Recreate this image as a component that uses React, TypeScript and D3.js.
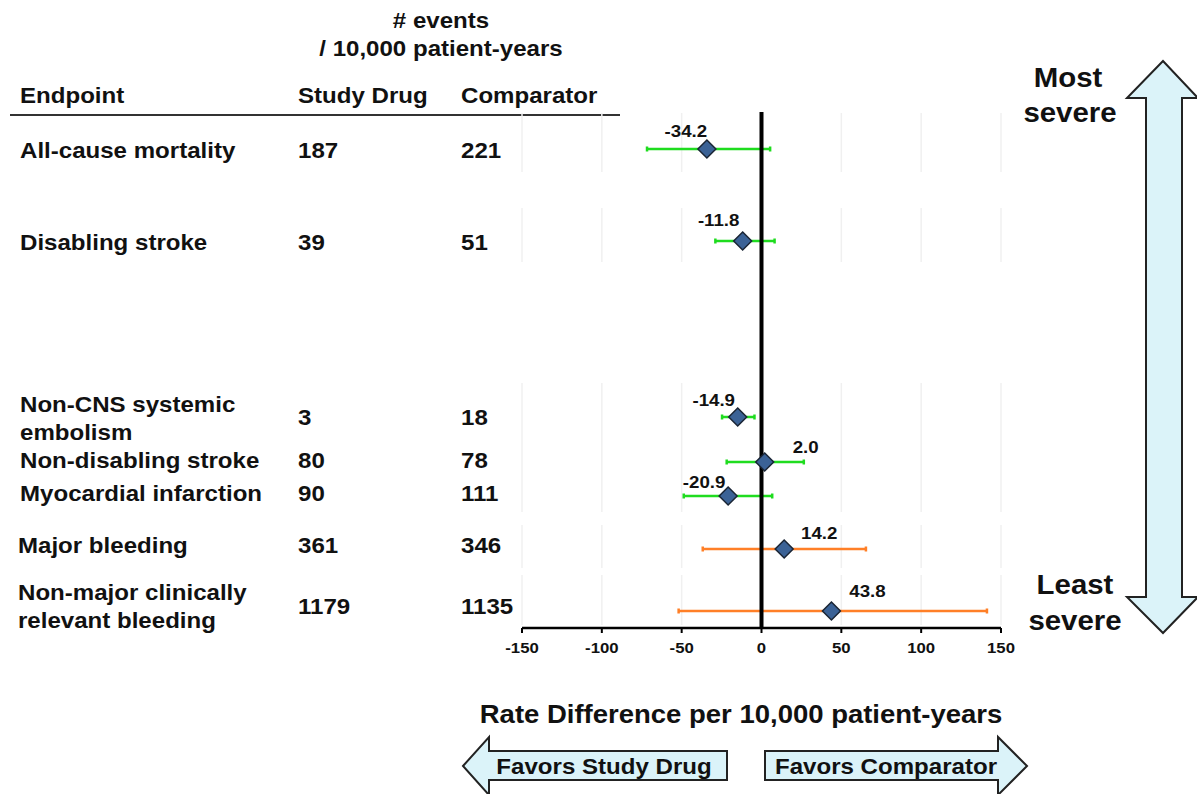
import React from "react";
import * as d3 from "d3";

const endpoints = [
  ["All-cause mortality"],
  ["Disabling stroke"],
  ["Non-CNS systemic", "embolism"],
  ["Non-disabling stroke"],
  ["Myocardial infarction"],
  ["Major bleeding"],
  ["Non-major clinically", "relevant bleeding"],
];
const studyDrug = [187, 39, 3, 80, 90, 361, 1179];
const comparator = [221, 51, 18, 78, 111, 346, 1135];
const estimate = [-34.2, -11.8, -14.9, 2.0, -20.9, 14.2, 43.8];
const ciLow = [-71.7, -28.9, -24.7, -21.8, -48.7, -36.8, -51.9];
const ciHigh = [5.4, 8.2, -4.4, 26.5, 6.7, 65.4, 141.2];
const group = ["efficacy", "efficacy", "efficacy", "efficacy", "efficacy", "bleeding", "bleeding"];
const xTicks = [-150, -100, -50, 0, 50, 100, 150];

// layout (not data)
const rowY = [149, 241, 417, 462, 496, 549, 611];
const textY = [158, 250, 412, 468, 501, 553, 600];
const numY = [158, 250, 425, 468, 501, 553, 614];
const textX = [20, 20, 20, 20, 20, 18, 18];
const labelDx = [-21, -24, -24, 41, -24, 35, 36];
const labelDy = [-12, -15, -11, -9, -8, -10, -14];
const gridBands = [[113, 172], [208, 262], [383, 512], [525, 568], [575, 625]];

const FONT = "'Liberation Sans', Arial, Helvetica, sans-serif";
const colors: Record<string, string> = { efficacy: "#1fdc1f", bleeding: "#ff7f27" };

function T({ x, y, children, size = 20, anchor = "start", sx = 1.12 }: any) {
  return (
    <text
      transform={`translate(${x},${y}) scale(${sx},1)`}
      fontFamily={FONT}
      fontWeight="bold"
      fontSize={size}
      textAnchor={anchor}
      fill="#111"
    >
      {children}
    </text>
  );
}

export default function App() {
  const x = d3.scaleLinear().domain([-150, 150]).range([522, 1001]);
  const axisY = 628;
  const arrowFill = "#dbf3f9";
  const TS = 21.5;

  const colStudy = 298;
  const colComp = 461;

  return (
    <svg
      width={1197}
      height={794}
      style={{ position: "absolute", left: 0, top: 0, background: "#fff" }}
    >
      {/* header */}
      <T x={441} y={28} anchor="middle" size={TS}># events</T>
      <T x={441} y={56} anchor="middle" size={TS}>/ 10,000 patient-years</T>
      <T x={20} y={103} size={TS}>Endpoint</T>
      <T x={colStudy} y={103} size={TS}>Study Drug</T>
      <T x={colComp} y={103} size={TS}>Comparator</T>
      <line x1={10} x2={620} y1={115} y2={115} stroke="#333" strokeWidth={2} />

      {/* gridlines */}
      {gridBands.map(([y0, y1], bi) =>
        xTicks.map((t) =>
          t === 0 ? null : (
            <line key={`g${bi}-${t}`} x1={x(t)} x2={x(t)} y1={y0} y2={y1} stroke="#f0f0f0" strokeWidth={1.5} />
          )
        )
      )}

      {/* rows */}
      {endpoints.map((lines, i) => (
        <g key={`r${i}`}>
          {lines.map((l, k) => (
            <T key={k} x={textX[i]} y={textY[i] + k * 28} size={TS}>
              {l}
            </T>
          ))}
          <T x={colStudy} y={numY[i]} size={TS}>{studyDrug[i]}</T>
          <T x={colComp} y={numY[i]} size={TS}>{comparator[i]}</T>
        </g>
      ))}

      {/* error bars */}
      {estimate.map((e, i) => {
        const y = rowY[i];
        const c = colors[group[i]];
        return (
          <g key={`e${i}`}>
            <line x1={x(ciLow[i])} x2={x(ciHigh[i])} y1={y} y2={y} stroke={c} strokeWidth={2.5} />
            <line x1={x(ciLow[i])} x2={x(ciLow[i])} y1={y - 2.5} y2={y + 2.5} stroke={c} strokeWidth={2.5} />
            <line x1={x(ciHigh[i])} x2={x(ciHigh[i])} y1={y - 2.5} y2={y + 2.5} stroke={c} strokeWidth={2.5} />
          </g>
        );
      })}

      {/* zero line */}
      <line x1={x(0)} x2={x(0)} y1={112} y2={axisY} stroke="#000" strokeWidth={4} />

      {/* diamonds + labels */}
      {estimate.map((e, i) => {
        const y = rowY[i];
        const cx = x(e);
        const r = 9;
        return (
          <g key={`d${i}`}>
            <path
              d={`M${cx},${y - r}L${cx + r},${y}L${cx},${y + r}L${cx - r},${y}Z`}
              fill="#3b6296"
              stroke="#1a2535"
              strokeWidth={1.5}
            />
            <T x={cx + labelDx[i]} y={y + labelDy[i]} anchor="middle" size={17} sx={1.1}>
              {e.toFixed(1)}
            </T>
          </g>
        );
      })}

      {/* x axis */}
      <line x1={x(-150)} x2={x(150)} y1={axisY} y2={axisY} stroke="#000" strokeWidth={2.5} />
      {xTicks.map((t) => (
        <g key={`t${t}`}>
          <line x1={x(t)} x2={x(t)} y1={axisY} y2={axisY + 5} stroke="#000" strokeWidth={2} />
          <T x={x(t)} y={axisY + 25} anchor="middle" size={15.5} sx={1.08}>
            {t}
          </T>
        </g>
      ))}

      <T x={741} y={723} anchor="middle" size={25} sx={1.1}>
        Rate Difference per 10,000 patient-years
      </T>

      {/* bottom arrows */}
      <path
        d="M463,766 L489,737 L489,751 L727,751 L727,780 L489,780 L489,795 Z"
        fill={arrowFill}
        stroke="#222"
        strokeWidth={2}
      />
      <T x={604} y={774} anchor="middle" size={TS}>Favors Study Drug</T>
      <path
        d="M1027,766 L998,737 L998,751 L765,751 L765,780 L998,780 L998,795 Z"
        fill={arrowFill}
        stroke="#222"
        strokeWidth={2}
      />
      <T x={886} y={774} anchor="middle" size={TS}>Favors Comparator</T>

      {/* severity arrow */}
      <path
        d="M1163,61 L1198,98 L1182,98 L1182,597 L1198,597 L1163,633 L1127,597 L1146,597 L1146,98 L1127,98 Z"
        fill={arrowFill}
        stroke="#222"
        strokeWidth={2}
      />
      <T x={1068} y={87} anchor="middle" size={27.5} sx={1.07}>Most</T>
      <T x={1070} y={122} anchor="middle" size={27.5} sx={1.07}>severe</T>
      <T x={1075} y={594} anchor="middle" size={27.5} sx={1.07}>Least</T>
      <T x={1075} y={630} anchor="middle" size={27.5} sx={1.07}>severe</T>
    </svg>
  );
}
